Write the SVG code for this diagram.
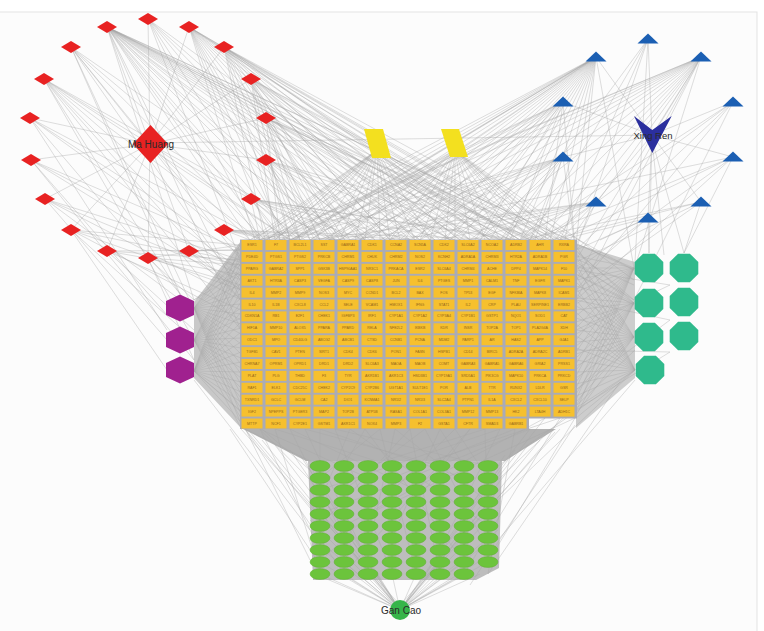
<svg xmlns="http://www.w3.org/2000/svg" xmlns:xlink="http://www.w3.org/1999/xlink" width="764" height="631" viewBox="0 0 764 631">
<style>
.e{fill:none;stroke:#a6a6a6;stroke-width:.5;stroke-opacity:.75}
.dm{fill:#e82222}
.tri{fill:#1b5fb3}
.hx{fill:#a0218f}
.oc{fill:#2fba8c}
.el{fill:#6cc43c;stroke:#5aa92f;stroke-width:.4}
.tg use{fill:#f6c02e}
.tg text{font-family:"Liberation Sans",Arial,sans-serif;font-size:3.6px;fill:#93651a;text-anchor:middle;dominant-baseline:central}
.lb{font-family:"Liberation Sans",Arial,sans-serif;fill:#2a2a2a;text-anchor:middle}
</style>
<defs>
<polygon id="dmd" points="0,-6 10,0 0,6 -10,0"/>
<polygon id="trs" points="0,-5.5 10.5,4.6 -10.5,4.6"/>
<polygon id="hxs" points="0,-13.5 14,-7 14,7 0,13.5 -14,7 -14,-7"/>
<polygon id="ocs" points="5.9,-14.3 14.3,-5.9 14.3,5.9 5.9,14.3 -5.9,14.3 -14.3,5.9 -14.3,-5.9 -5.9,-14.3"/>
<rect id="bx" x="-10.5" y="-5" width="21" height="10"/>
</defs>
<rect x="0" y="0" width="764" height="631" fill="#ffffff"/>
<rect x="-2" y="12" width="759" height="625" fill="#fcfcfc" stroke="#e3e3e3" stroke-width="1"/>

<g id="connectors">
<polygon points="194,302 241,241 241,428 194,378" fill="#c8c8c8"/>
<polygon points="576,244 635,262 635,378 576,428" fill="#cdcdcd"/>
<polygon points="243,429 556,429 505,461 306,461" fill="#b2b2b2"/>
<polygon points="308,461 502,461 499,568 476,580 313,580" fill="#bdbdbd"/>
<path class="e" d="M150 144L107 27M150 144L148 19M150 144L189 27M150 144L71 47M150 144L224 47M150 144L44 79M150 144L251 79M150 144L30 118M150 144L266 118M150 144L31 160M150 144L266 160M150 144L45 199M150 144L251 199M150 144L71 230M150 144L224 230M150 144L107 251M150 144L148 258M150 144L189 251M150 143L652 135M150 144L250 240M150 144L290 240"/>
<path class="e" d="M107 27L250 240M107 27L270 240M107 27L295 240M107 27L320 240M107 27L345 240M107 27L370 240M107 27L395 240M107 27L420 240M107 27L450 240M107 27L480 240M107 27L510 240M107 27L545 240M107 27L570 240M107 27L241 300M107 27L241 330M107 27L634 270M107 27L634 305M107 27L194 300M148 19L260 240M148 19L330 240M148 19L400 240M148 19L241 262M189 27L255 240M189 27L285 240M189 27L315 240M189 27L360 240M189 27L410 240M189 27L460 240M189 27L520 240M189 27L576 255M189 27L634 300M189 27L555 240M71 47L241 260M71 47L300 240M71 47L350 240M71 47L180 294M224 47L265 240M224 47L300 240M224 47L340 240M224 47L390 240M224 47L440 240M224 47L500 240M224 47L560 240M224 47L634 270M224 47L576 290M44 79L241 250M44 79L241 280M44 79L180 294M44 79L290 240M44 79L330 240M44 79L241 330M251 79L275 240M251 79L310 240M251 79L350 240M251 79L430 240M251 79L490 240M251 79L550 240M251 79L576 260M30 118L241 270M30 118L167 330M30 118L260 240M266 118L280 240M266 118L320 240M266 118L375 240M266 118L470 240M266 118L530 240M266 118L634 285M31 160L241 290M31 160L167 315M31 160L241 250M266 160L290 240M266 160L340 240M266 160L410 240M266 160L500 240M45 199L241 300M45 199L241 260M45 199L167 340M251 199L260 240M251 199L305 240M251 199L365 240M251 199L455 240M251 199L576 250M71 230L241 245M71 230L241 265M71 230L241 320M71 230L167 370M224 230L250 240M224 230L270 240M224 230L300 240M224 230L420 240M107 251L241 250M107 251L241 275M107 251L241 310M148 258L241 245M148 258L241 285M148 258L194 300M189 251L241 250M189 251L241 262M189 251L241 290"/>
<path class="e" d="M107 27L260 240M107 27L285 240M107 27L335 240M107 27L385 240M107 27L435 240M107 27L465 240M107 27L495 240M107 27L530 240M107 27L576 265M189 27L270 240M189 27L300 240M189 27L335 240M189 27L385 240M189 27L435 240M189 27L490 240M189 27L576 280M148 19L290 240M148 19L365 240M148 19L450 240M224 47L280 240M224 47L320 240M224 47L365 240M224 47L415 240M224 47L470 240M224 47L530 240M71 47L265 240M71 47L241 290M71 47L194 310M44 79L260 240M44 79L241 300M44 79L194 340M251 79L290 240M251 79L330 240M251 79L390 240M251 79L460 240M251 79L520 240M266 118L300 240M266 118L345 240M266 118L420 240M266 118L500 240M266 118L560 240M30 118L241 255M30 118L194 310M266 160L310 240M266 160L375 240M266 160L455 240M266 160L545 240M31 160L241 270M31 160L194 360M45 199L241 280M45 199L194 310M251 199L280 240M251 199L335 240M251 199L410 240M251 199L520 240M71 230L241 290M71 230L194 340M224 230L285 240M224 230L340 240M224 230L520 240M107 251L241 260M107 251L194 330M148 258L241 265M148 258L194 360M189 251L241 275M189 251L241 300"/>
<path class="e" d="M652 135L648 39M652 135L596 57M652 135L701 57M652 135L563 102M652 135L733 102M652 135L563 157M652 135L733 157M652 135L596 202M652 135L701 202M652 135L648 218M652 140L649 253M652 140L684 253M652 140L664 255M648 39L560 240M648 39L500 240M648 39L635 262M596 57L250 240M596 57L280 240M596 57L310 240M596 57L340 240M596 57L370 240M596 57L400 240M596 57L430 240M596 57L460 240M596 57L490 240M596 57L520 240M596 57L550 240M596 57L576 245M596 57L194 300M596 57L241 270M596 57L634 268M701 57L260 240M701 57L320 240M701 57L380 240M701 57L440 240M701 57L500 240M701 57L540 240M701 57L570 240M701 57L576 280M701 57L634 270M701 57L241 250M563 102L270 240M563 102L330 240M563 102L390 240M563 102L450 240M563 102L510 240M563 102L545 240M563 102L576 260M733 102L576 250M733 102L520 240M733 102L634 300M563 157L290 240M563 157L360 240M563 157L420 240M563 157L480 240M563 157L530 240M563 157L576 255M733 157L560 240M733 157L576 270M733 157L684 253M733 157L241 260M596 202L310 240M596 202L400 240M596 202L470 240M596 202L540 240M596 202L576 245M701 202L576 262M701 202L550 240M701 202L684 253M648 218L576 250M648 218L649 253M648 218L600 240"/>
<path class="e" d="M596 57L265 240M596 57L295 240M596 57L325 240M596 57L355 240M596 57L385 240M596 57L415 240M596 57L445 240M596 57L475 240M596 57L505 240M596 57L535 240M596 57L565 240M596 57L241 300M701 57L290 240M701 57L350 240M701 57L410 240M701 57L470 240M701 57L520 240M701 57L555 240M701 57L576 260M701 57L576 300M563 102L300 240M563 102L360 240M563 102L420 240M563 102L480 240M563 102L241 260M563 157L260 240M563 157L330 240M563 157L390 240M563 157L450 240M563 157L505 240M733 102L545 240M733 102L576 290M733 157L530 240M733 157L576 300M596 202L350 240M596 202L440 240M596 202L505 240M596 202L560 240M701 202L520 240M701 202L576 290M648 218L560 240M648 218L576 280M648 39L530 240M648 39L576 250"/>
<path class="e" d="M377 150L250 240M377 150L275 240M377 150L300 240M377 150L330 240M377 150L355 240M377 150L380 240M377 150L400 240M377 150L430 240M377 150L470 240M377 150L520 240M377 150L241 270M377 150L241 300M377 150L194 300M455 150L290 240M455 150L340 240M455 150L390 240M455 150L420 240M455 150L445 240M455 150L470 240M455 150L500 240M455 150L530 240M455 150L560 240M455 150L576 260M455 150L634 280M455 150L634 300M377 150L260 240M377 150L285 240M377 150L315 240M377 150L340 240M377 150L365 240M377 150L390 240M377 150L415 240M377 150L450 240M377 150L490 240M377 150L241 250M455 150L310 240M455 150L360 240M455 150L405 240M455 150L430 240M455 150L455 240M455 150L485 240M455 150L515 240M455 150L545 240M455 150L576 245M455 150L576 280"/>
<path class="e" d="M194 308L241 244M194 308L241 254M194 308L241 264M194 308L241 274M194 308L241 284M194 308L241 294M194 308L241 304M194 308L241 314M194 308L241 324M194 308L241 334M194 308L241 344M194 308L241 354M194 308L241 364M194 308L241 374M194 308L241 384M194 308L241 394M194 308L241 404M194 308L241 414M194 308L241 424M194 340L241 248M194 340L241 258M194 340L241 268M194 340L241 278M194 340L241 288M194 340L241 298M194 340L241 308M194 340L241 318M194 340L241 328M194 340L241 338M194 340L241 348M194 340L241 358M194 340L241 368M194 340L241 378M194 340L241 388M194 340L241 398M194 340L241 408M194 340L241 418M194 340L241 428M194 371L241 242M194 371L241 252M194 371L241 262M194 371L241 272M194 371L241 282M194 371L241 292M194 371L241 302M194 371L241 312M194 371L241 322M194 371L241 332M194 371L241 342M194 371L241 352M194 371L241 362M194 371L241 372M194 371L241 382M194 371L241 392M194 371L241 402M194 371L241 412M194 371L241 422"/>
<path class="e" d="M634 268L576 244M634 268L576 256M634 268L576 268M634 268L576 280M634 268L576 292M634 268L576 304M634 268L576 316M634 268L576 328M634 268L576 340M634 268L576 352M634 268L576 364M634 268L576 376M634 268L576 388M634 268L576 400M634 268L576 412M634 303L576 250M634 303L576 262M634 303L576 274M634 303L576 286M634 303L576 298M634 303L576 310M634 303L576 322M634 303L576 334M634 303L576 346M634 303L576 358M634 303L576 370M634 303L576 382M634 303L576 394M634 303L576 406M634 303L576 416M634 337L576 246M634 337L576 258M634 337L576 270M634 337L576 282M634 337L576 294M634 337L576 306M634 337L576 318M634 337L576 330M634 337L576 342M634 337L576 354M634 337L576 366M634 337L576 378M634 337L576 390M634 337L576 402M634 337L576 414M635 370L576 252M635 370L576 264M635 370L576 276M635 370L576 288M635 370L576 300M635 370L576 312M635 370L576 324M635 370L576 336M635 370L576 348M635 370L576 360M635 370L576 372M635 370L576 384M635 370L576 396M635 370L576 408M635 370L576 418M670 285L576 270M670 285L576 330M670 320L576 300M670 320L576 390M670 352L576 350M670 352L576 410"/>
<path class="e" d="M245 429L320 466M245 429L320 520M245 429L344 574M260 429L368 478M260 429L320 550M275 429L392 466M275 429L320 574M290 429L416 490M290 429L344 538M305 429L440 466M305 429L368 562M320 429L464 478M320 429L320 540M335 429L488 466M335 429L392 574M350 429L320 502M350 429L488 526M365 429L344 466M365 429L464 562M380 429L416 574M380 429L320 478M395 429L488 502M395 429L368 550M410 429L440 574M410 429L320 526M425 429L488 550M425 429L344 490M440 429L392 538M440 429L464 466M455 429L320 562M455 429L488 478M470 429L344 574M470 429L416 502M485 429L368 466M485 429L488 538M500 429L320 490M500 429L440 550M515 429L392 478M515 429L488 574M530 429L464 514M530 429L320 514M545 418L488 490M545 418L344 526M560 418L464 574M560 418L416 466M575 418L488 562M575 418L368 514M635 370L498 466M635 370L498 500M635 380L498 540M620 382L488 574M635 350L498 480M241 420L310 560M241 429L400 605M241 410L310 480M230 429L330 580M194 371L310 470M194 380L310 530M560 429L400 605M575 425L470 585"/>
<path class="e" d="M400 610L320 574M400 610L344 574M400 610L368 574M400 610L392 574M400 610L416 574M400 610L440 574M400 610L464 574M400 610L488 562M400 610L320 562M400 610L310 540M400 610L310 520M400 610L310 500M400 610L310 480M400 610L310 466M400 610L498 550M400 610L498 530M400 610L498 510M400 610L498 490M400 610L498 470M400 610L344 562M400 610L368 562M400 610L440 562M400 610L464 562M400 610L330 550M400 610L478 550M400 610L315 574M400 610L480 574M400 610L352 580M400 610L452 580M400 610L262 440M400 610L275 445M400 610L290 450M400 610L300 455M400 610L540 440M400 610L528 445M400 610L515 450M400 610L505 455M400 610L250 432M400 610L555 432"/>
</g>

<g id="ma-huang"><polygon class="dm" points="150.5,125 168,144 150.5,163 133,144"/><text class="lb" x="151" y="147.5" font-size="10">Ma Huang</text></g>
<g id="mh1"><use href="#dmd" class="dm" x="107" y="27"/></g>
<g id="mh2"><use href="#dmd" class="dm" x="148" y="19"/></g>
<g id="mh3"><use href="#dmd" class="dm" x="189" y="27"/></g>
<g id="mh4"><use href="#dmd" class="dm" x="71" y="47"/></g>
<g id="mh5"><use href="#dmd" class="dm" x="224" y="47"/></g>
<g id="mh6"><use href="#dmd" class="dm" x="44" y="79"/></g>
<g id="mh7"><use href="#dmd" class="dm" x="251" y="79"/></g>
<g id="mh8"><use href="#dmd" class="dm" x="30" y="118"/></g>
<g id="mh9"><use href="#dmd" class="dm" x="266" y="118"/></g>
<g id="mh10"><use href="#dmd" class="dm" x="31" y="160"/></g>
<g id="mh11"><use href="#dmd" class="dm" x="266" y="160"/></g>
<g id="mh12"><use href="#dmd" class="dm" x="45" y="199"/></g>
<g id="mh13"><use href="#dmd" class="dm" x="251" y="199"/></g>
<g id="mh14"><use href="#dmd" class="dm" x="71" y="230"/></g>
<g id="mh15"><use href="#dmd" class="dm" x="224" y="230"/></g>
<g id="mh16"><use href="#dmd" class="dm" x="107" y="251"/></g>
<g id="mh17"><use href="#dmd" class="dm" x="148" y="258"/></g>
<g id="mh18"><use href="#dmd" class="dm" x="189" y="251"/></g>

<g id="xing-ren"><polygon points="634,116 652.3,130 671.7,116 652.3,153" fill="#2b2f9e"/><text class="lb" x="653" y="138.5" font-size="9.5">Xing Ren</text></g>
<g id="xr1"><use href="#trs" class="tri" x="648" y="39"/></g>
<g id="xr2"><use href="#trs" class="tri" x="596" y="57"/></g>
<g id="xr3"><use href="#trs" class="tri" x="701" y="57"/></g>
<g id="xr4"><use href="#trs" class="tri" x="563" y="102"/></g>
<g id="xr5"><use href="#trs" class="tri" x="733" y="102"/></g>
<g id="xr6"><use href="#trs" class="tri" x="563" y="157"/></g>
<g id="xr7"><use href="#trs" class="tri" x="733" y="157"/></g>
<g id="xr8"><use href="#trs" class="tri" x="596" y="202"/></g>
<g id="xr9"><use href="#trs" class="tri" x="701" y="202"/></g>
<g id="xr10"><use href="#trs" class="tri" x="648" y="218"/></g>

<g id="shared1"><polygon points="364,129 383,129 391,158 372,158" fill="#f3e01f"/></g>
<g id="shared2"><polygon points="441,129 459,129 468,157 450,157" fill="#f3e01f"/></g>

<g id="hx1"><use href="#hxs" class="hx" x="180" y="308"/></g>
<g id="hx2"><use href="#hxs" class="hx" x="180" y="340"/></g>
<g id="hx3"><use href="#hxs" class="hx" x="180" y="370"/></g>

<g id="oc1"><use href="#ocs" class="oc" x="649" y="268"/></g>
<g id="oc2"><use href="#ocs" class="oc" x="684" y="268"/></g>
<g id="oc3"><use href="#ocs" class="oc" x="649" y="303"/></g>
<g id="oc4"><use href="#ocs" class="oc" x="684" y="302"/></g>
<g id="oc5"><use href="#ocs" class="oc" x="649" y="337"/></g>
<g id="oc6"><use href="#ocs" class="oc" x="684" y="336"/></g>
<g id="oc7"><use href="#ocs" class="oc" x="650" y="370"/></g>

<path d="M240 239.5H577V418.5H529V429H240Z" fill="#a9abb7"/>
<g class="tg">
<g id="t0" transform="translate(252 245)"><use href="#bx"/><text>ESR1</text></g>
<g id="t1" transform="translate(276 245)"><use href="#bx"/><text>F7</text></g>
<g id="t2" transform="translate(300 245)"><use href="#bx"/><text>BCL2L1</text></g>
<g id="t3" transform="translate(324 245)"><use href="#bx"/><text>SST</text></g>
<g id="t4" transform="translate(348 245)"><use href="#bx"/><text>GABRA1</text></g>
<g id="t5" transform="translate(372 245)"><use href="#bx"/><text>CDK1</text></g>
<g id="t6" transform="translate(396 245)"><use href="#bx"/><text>CCNA2</text></g>
<g id="t7" transform="translate(420 245)"><use href="#bx"/><text>SCN5A</text></g>
<g id="t8" transform="translate(444 245)"><use href="#bx"/><text>CDK2</text></g>
<g id="t9" transform="translate(468 245)"><use href="#bx"/><text>SLC6A2</text></g>
<g id="t10" transform="translate(492 245)"><use href="#bx"/><text>NCOA2</text></g>
<g id="t11" transform="translate(516 245)"><use href="#bx"/><text>ADRB2</text></g>
<g id="t12" transform="translate(540 245)"><use href="#bx"/><text>AHR</text></g>
<g id="t13" transform="translate(564 245)"><use href="#bx"/><text>RXRA</text></g>
<g id="t14" transform="translate(252 256.9)"><use href="#bx"/><text>PDE4D</text></g>
<g id="t15" transform="translate(276 256.9)"><use href="#bx"/><text>PTGS1</text></g>
<g id="t16" transform="translate(300 256.9)"><use href="#bx"/><text>PTGS2</text></g>
<g id="t17" transform="translate(324 256.9)"><use href="#bx"/><text>PRKCB</text></g>
<g id="t18" transform="translate(348 256.9)"><use href="#bx"/><text>CHRM1</text></g>
<g id="t19" transform="translate(372 256.9)"><use href="#bx"/><text>CHUK</text></g>
<g id="t20" transform="translate(396 256.9)"><use href="#bx"/><text>CHRM2</text></g>
<g id="t21" transform="translate(420 256.9)"><use href="#bx"/><text>NOS2</text></g>
<g id="t22" transform="translate(444 256.9)"><use href="#bx"/><text>KCNH2</text></g>
<g id="t23" transform="translate(468 256.9)"><use href="#bx"/><text>ADRA1A</text></g>
<g id="t24" transform="translate(492 256.9)"><use href="#bx"/><text>CHRM3</text></g>
<g id="t25" transform="translate(516 256.9)"><use href="#bx"/><text>HTR2A</text></g>
<g id="t26" transform="translate(540 256.9)"><use href="#bx"/><text>ADRA1B</text></g>
<g id="t27" transform="translate(564 256.9)"><use href="#bx"/><text>PGR</text></g>
<g id="t28" transform="translate(252 268.8)"><use href="#bx"/><text>PPARG</text></g>
<g id="t29" transform="translate(276 268.8)"><use href="#bx"/><text>GABRA2</text></g>
<g id="t30" transform="translate(300 268.8)"><use href="#bx"/><text>SPP1</text></g>
<g id="t31" transform="translate(324 268.8)"><use href="#bx"/><text>GSK3B</text></g>
<g id="t32" transform="translate(348 268.8)"><use href="#bx"/><text>HSP90AA1</text></g>
<g id="t33" transform="translate(372 268.8)"><use href="#bx"/><text>NR3C1</text></g>
<g id="t34" transform="translate(396 268.8)"><use href="#bx"/><text>PRKACA</text></g>
<g id="t35" transform="translate(420 268.8)"><use href="#bx"/><text>ESR2</text></g>
<g id="t36" transform="translate(444 268.8)"><use href="#bx"/><text>SLC6A4</text></g>
<g id="t37" transform="translate(468 268.8)"><use href="#bx"/><text>CHRM4</text></g>
<g id="t38" transform="translate(492 268.8)"><use href="#bx"/><text>ACHE</text></g>
<g id="t39" transform="translate(516 268.8)"><use href="#bx"/><text>DPP4</text></g>
<g id="t40" transform="translate(540 268.8)"><use href="#bx"/><text>MAPK14</text></g>
<g id="t41" transform="translate(564 268.8)"><use href="#bx"/><text>F10</text></g>
<g id="t42" transform="translate(252 280.7)"><use href="#bx"/><text>AKT1</text></g>
<g id="t43" transform="translate(276 280.7)"><use href="#bx"/><text>HTR3A</text></g>
<g id="t44" transform="translate(300 280.7)"><use href="#bx"/><text>CASP3</text></g>
<g id="t45" transform="translate(324 280.7)"><use href="#bx"/><text>VEGFA</text></g>
<g id="t46" transform="translate(348 280.7)"><use href="#bx"/><text>CASP9</text></g>
<g id="t47" transform="translate(372 280.7)"><use href="#bx"/><text>CASP8</text></g>
<g id="t48" transform="translate(396 280.7)"><use href="#bx"/><text>JUN</text></g>
<g id="t49" transform="translate(420 280.7)"><use href="#bx"/><text>IL6</text></g>
<g id="t50" transform="translate(444 280.7)"><use href="#bx"/><text>PTGES</text></g>
<g id="t51" transform="translate(468 280.7)"><use href="#bx"/><text>MMP1</text></g>
<g id="t52" transform="translate(492 280.7)"><use href="#bx"/><text>CALM1</text></g>
<g id="t53" transform="translate(516 280.7)"><use href="#bx"/><text>TNF</text></g>
<g id="t54" transform="translate(540 280.7)"><use href="#bx"/><text>EGFR</text></g>
<g id="t55" transform="translate(564 280.7)"><use href="#bx"/><text>MAPK1</text></g>
<g id="t56" transform="translate(252 292.6)"><use href="#bx"/><text>IL4</text></g>
<g id="t57" transform="translate(276 292.6)"><use href="#bx"/><text>MMP2</text></g>
<g id="t58" transform="translate(300 292.6)"><use href="#bx"/><text>MMP9</text></g>
<g id="t59" transform="translate(324 292.6)"><use href="#bx"/><text>NOS3</text></g>
<g id="t60" transform="translate(348 292.6)"><use href="#bx"/><text>MYC</text></g>
<g id="t61" transform="translate(372 292.6)"><use href="#bx"/><text>CCND1</text></g>
<g id="t62" transform="translate(396 292.6)"><use href="#bx"/><text>BCL2</text></g>
<g id="t63" transform="translate(420 292.6)"><use href="#bx"/><text>BAX</text></g>
<g id="t64" transform="translate(444 292.6)"><use href="#bx"/><text>FOS</text></g>
<g id="t65" transform="translate(468 292.6)"><use href="#bx"/><text>TP53</text></g>
<g id="t66" transform="translate(492 292.6)"><use href="#bx"/><text>EGF</text></g>
<g id="t67" transform="translate(516 292.6)"><use href="#bx"/><text>NFKBIA</text></g>
<g id="t68" transform="translate(540 292.6)"><use href="#bx"/><text>MAPK8</text></g>
<g id="t69" transform="translate(564 292.6)"><use href="#bx"/><text>ICAM1</text></g>
<g id="t70" transform="translate(252 304.5)"><use href="#bx"/><text>IL10</text></g>
<g id="t71" transform="translate(276 304.5)"><use href="#bx"/><text>IL1B</text></g>
<g id="t72" transform="translate(300 304.5)"><use href="#bx"/><text>CXCL8</text></g>
<g id="t73" transform="translate(324 304.5)"><use href="#bx"/><text>CCL2</text></g>
<g id="t74" transform="translate(348 304.5)"><use href="#bx"/><text>SELE</text></g>
<g id="t75" transform="translate(372 304.5)"><use href="#bx"/><text>VCAM1</text></g>
<g id="t76" transform="translate(396 304.5)"><use href="#bx"/><text>HMOX1</text></g>
<g id="t77" transform="translate(420 304.5)"><use href="#bx"/><text>IFNG</text></g>
<g id="t78" transform="translate(444 304.5)"><use href="#bx"/><text>STAT1</text></g>
<g id="t79" transform="translate(468 304.5)"><use href="#bx"/><text>IL2</text></g>
<g id="t80" transform="translate(492 304.5)"><use href="#bx"/><text>CRP</text></g>
<g id="t81" transform="translate(516 304.5)"><use href="#bx"/><text>PLAU</text></g>
<g id="t82" transform="translate(540 304.5)"><use href="#bx"/><text>SERPINE1</text></g>
<g id="t83" transform="translate(564 304.5)"><use href="#bx"/><text>ERBB2</text></g>
<g id="t84" transform="translate(252 316.4)"><use href="#bx"/><text>CDKN1A</text></g>
<g id="t85" transform="translate(276 316.4)"><use href="#bx"/><text>RB1</text></g>
<g id="t86" transform="translate(300 316.4)"><use href="#bx"/><text>E2F1</text></g>
<g id="t87" transform="translate(324 316.4)"><use href="#bx"/><text>CHEK1</text></g>
<g id="t88" transform="translate(348 316.4)"><use href="#bx"/><text>IGFBP3</text></g>
<g id="t89" transform="translate(372 316.4)"><use href="#bx"/><text>IRF1</text></g>
<g id="t90" transform="translate(396 316.4)"><use href="#bx"/><text>CYP1A1</text></g>
<g id="t91" transform="translate(420 316.4)"><use href="#bx"/><text>CYP1A2</text></g>
<g id="t92" transform="translate(444 316.4)"><use href="#bx"/><text>CYP3A4</text></g>
<g id="t93" transform="translate(468 316.4)"><use href="#bx"/><text>CYP1B1</text></g>
<g id="t94" transform="translate(492 316.4)"><use href="#bx"/><text>GSTP1</text></g>
<g id="t95" transform="translate(516 316.4)"><use href="#bx"/><text>NQO1</text></g>
<g id="t96" transform="translate(540 316.4)"><use href="#bx"/><text>SOD1</text></g>
<g id="t97" transform="translate(564 316.4)"><use href="#bx"/><text>CAT</text></g>
<g id="t98" transform="translate(252 328.3)"><use href="#bx"/><text>HIF1A</text></g>
<g id="t99" transform="translate(276 328.3)"><use href="#bx"/><text>MMP10</text></g>
<g id="t100" transform="translate(300 328.3)"><use href="#bx"/><text>ALOX5</text></g>
<g id="t101" transform="translate(324 328.3)"><use href="#bx"/><text>PPARA</text></g>
<g id="t102" transform="translate(348 328.3)"><use href="#bx"/><text>PPARD</text></g>
<g id="t103" transform="translate(372 328.3)"><use href="#bx"/><text>RELA</text></g>
<g id="t104" transform="translate(396 328.3)"><use href="#bx"/><text>NFE2L2</text></g>
<g id="t105" transform="translate(420 328.3)"><use href="#bx"/><text>IKBKB</text></g>
<g id="t106" transform="translate(444 328.3)"><use href="#bx"/><text>KDR</text></g>
<g id="t107" transform="translate(468 328.3)"><use href="#bx"/><text>INSR</text></g>
<g id="t108" transform="translate(492 328.3)"><use href="#bx"/><text>TOP2A</text></g>
<g id="t109" transform="translate(516 328.3)"><use href="#bx"/><text>TOP1</text></g>
<g id="t110" transform="translate(540 328.3)"><use href="#bx"/><text>PLA2G4A</text></g>
<g id="t111" transform="translate(564 328.3)"><use href="#bx"/><text>XDH</text></g>
<g id="t112" transform="translate(252 340.2)"><use href="#bx"/><text>ODC1</text></g>
<g id="t113" transform="translate(276 340.2)"><use href="#bx"/><text>MPO</text></g>
<g id="t114" transform="translate(300 340.2)"><use href="#bx"/><text>CD40LG</text></g>
<g id="t115" transform="translate(324 340.2)"><use href="#bx"/><text>ABCG2</text></g>
<g id="t116" transform="translate(348 340.2)"><use href="#bx"/><text>ABCB1</text></g>
<g id="t117" transform="translate(372 340.2)"><use href="#bx"/><text>CTSD</text></g>
<g id="t118" transform="translate(396 340.2)"><use href="#bx"/><text>CCNB1</text></g>
<g id="t119" transform="translate(420 340.2)"><use href="#bx"/><text>PCNA</text></g>
<g id="t120" transform="translate(444 340.2)"><use href="#bx"/><text>MDM2</text></g>
<g id="t121" transform="translate(468 340.2)"><use href="#bx"/><text>PARP1</text></g>
<g id="t122" transform="translate(492 340.2)"><use href="#bx"/><text>AR</text></g>
<g id="t123" transform="translate(516 340.2)"><use href="#bx"/><text>HAS2</text></g>
<g id="t124" transform="translate(540 340.2)"><use href="#bx"/><text>APP</text></g>
<g id="t125" transform="translate(564 340.2)"><use href="#bx"/><text>GJA1</text></g>
<g id="t126" transform="translate(252 352.1)"><use href="#bx"/><text>TGFB1</text></g>
<g id="t127" transform="translate(276 352.1)"><use href="#bx"/><text>CAV1</text></g>
<g id="t128" transform="translate(300 352.1)"><use href="#bx"/><text>PTEN</text></g>
<g id="t129" transform="translate(324 352.1)"><use href="#bx"/><text>SIRT1</text></g>
<g id="t130" transform="translate(348 352.1)"><use href="#bx"/><text>CDK4</text></g>
<g id="t131" transform="translate(372 352.1)"><use href="#bx"/><text>CDK6</text></g>
<g id="t132" transform="translate(396 352.1)"><use href="#bx"/><text>PON1</text></g>
<g id="t133" transform="translate(420 352.1)"><use href="#bx"/><text>FASN</text></g>
<g id="t134" transform="translate(444 352.1)"><use href="#bx"/><text>HSPB1</text></g>
<g id="t135" transform="translate(468 352.1)"><use href="#bx"/><text>CD14</text></g>
<g id="t136" transform="translate(492 352.1)"><use href="#bx"/><text>BIRC5</text></g>
<g id="t137" transform="translate(516 352.1)"><use href="#bx"/><text>ADRA2A</text></g>
<g id="t138" transform="translate(540 352.1)"><use href="#bx"/><text>ADRA2C</text></g>
<g id="t139" transform="translate(564 352.1)"><use href="#bx"/><text>ADRB1</text></g>
<g id="t140" transform="translate(252 364)"><use href="#bx"/><text>CHRNA7</text></g>
<g id="t141" transform="translate(276 364)"><use href="#bx"/><text>OPRM1</text></g>
<g id="t142" transform="translate(300 364)"><use href="#bx"/><text>OPRD1</text></g>
<g id="t143" transform="translate(324 364)"><use href="#bx"/><text>DRD1</text></g>
<g id="t144" transform="translate(348 364)"><use href="#bx"/><text>DRD2</text></g>
<g id="t145" transform="translate(372 364)"><use href="#bx"/><text>SLC6A3</text></g>
<g id="t146" transform="translate(396 364)"><use href="#bx"/><text>MAOA</text></g>
<g id="t147" transform="translate(420 364)"><use href="#bx"/><text>MAOB</text></g>
<g id="t148" transform="translate(444 364)"><use href="#bx"/><text>COMT</text></g>
<g id="t149" transform="translate(468 364)"><use href="#bx"/><text>GABRA3</text></g>
<g id="t150" transform="translate(492 364)"><use href="#bx"/><text>GABRA5</text></g>
<g id="t151" transform="translate(516 364)"><use href="#bx"/><text>GABRA6</text></g>
<g id="t152" transform="translate(540 364)"><use href="#bx"/><text>GRIA2</text></g>
<g id="t153" transform="translate(564 364)"><use href="#bx"/><text>PRSS1</text></g>
<g id="t154" transform="translate(252 375.9)"><use href="#bx"/><text>PLAT</text></g>
<g id="t155" transform="translate(276 375.9)"><use href="#bx"/><text>PLG</text></g>
<g id="t156" transform="translate(300 375.9)"><use href="#bx"/><text>THBD</text></g>
<g id="t157" transform="translate(324 375.9)"><use href="#bx"/><text>F3</text></g>
<g id="t158" transform="translate(348 375.9)"><use href="#bx"/><text>TYR</text></g>
<g id="t159" transform="translate(372 375.9)"><use href="#bx"/><text>AKR1B1</text></g>
<g id="t160" transform="translate(396 375.9)"><use href="#bx"/><text>AKR1C3</text></g>
<g id="t161" transform="translate(420 375.9)"><use href="#bx"/><text>HSD3B1</text></g>
<g id="t162" transform="translate(444 375.9)"><use href="#bx"/><text>CYP19A1</text></g>
<g id="t163" transform="translate(468 375.9)"><use href="#bx"/><text>SRD5A1</text></g>
<g id="t164" transform="translate(492 375.9)"><use href="#bx"/><text>PIK3CG</text></g>
<g id="t165" transform="translate(516 375.9)"><use href="#bx"/><text>MAPK10</text></g>
<g id="t166" transform="translate(540 375.9)"><use href="#bx"/><text>PRKCA</text></g>
<g id="t167" transform="translate(564 375.9)"><use href="#bx"/><text>PRKCD</text></g>
<g id="t168" transform="translate(252 387.8)"><use href="#bx"/><text>RAF1</text></g>
<g id="t169" transform="translate(276 387.8)"><use href="#bx"/><text>ELK1</text></g>
<g id="t170" transform="translate(300 387.8)"><use href="#bx"/><text>CDC25C</text></g>
<g id="t171" transform="translate(324 387.8)"><use href="#bx"/><text>CHEK2</text></g>
<g id="t172" transform="translate(348 387.8)"><use href="#bx"/><text>CYP2C9</text></g>
<g id="t173" transform="translate(372 387.8)"><use href="#bx"/><text>CYP2B6</text></g>
<g id="t174" transform="translate(396 387.8)"><use href="#bx"/><text>UGT1A1</text></g>
<g id="t175" transform="translate(420 387.8)"><use href="#bx"/><text>SULT1E1</text></g>
<g id="t176" transform="translate(444 387.8)"><use href="#bx"/><text>POR</text></g>
<g id="t177" transform="translate(468 387.8)"><use href="#bx"/><text>ALB</text></g>
<g id="t178" transform="translate(492 387.8)"><use href="#bx"/><text>TTR</text></g>
<g id="t179" transform="translate(516 387.8)"><use href="#bx"/><text>RUNX2</text></g>
<g id="t180" transform="translate(540 387.8)"><use href="#bx"/><text>LDLR</text></g>
<g id="t181" transform="translate(564 387.8)"><use href="#bx"/><text>GSR</text></g>
<g id="t182" transform="translate(252 399.7)"><use href="#bx"/><text>TXNRD1</text></g>
<g id="t183" transform="translate(276 399.7)"><use href="#bx"/><text>GCLC</text></g>
<g id="t184" transform="translate(300 399.7)"><use href="#bx"/><text>GCLM</text></g>
<g id="t185" transform="translate(324 399.7)"><use href="#bx"/><text>CA2</text></g>
<g id="t186" transform="translate(348 399.7)"><use href="#bx"/><text>DIO1</text></g>
<g id="t187" transform="translate(372 399.7)"><use href="#bx"/><text>KCNMA1</text></g>
<g id="t188" transform="translate(396 399.7)"><use href="#bx"/><text>NR1I2</text></g>
<g id="t189" transform="translate(420 399.7)"><use href="#bx"/><text>NR1I3</text></g>
<g id="t190" transform="translate(444 399.7)"><use href="#bx"/><text>SLC2A4</text></g>
<g id="t191" transform="translate(468 399.7)"><use href="#bx"/><text>PTPN1</text></g>
<g id="t192" transform="translate(492 399.7)"><use href="#bx"/><text>IL1A</text></g>
<g id="t193" transform="translate(516 399.7)"><use href="#bx"/><text>CXCL2</text></g>
<g id="t194" transform="translate(540 399.7)"><use href="#bx"/><text>CXCL10</text></g>
<g id="t195" transform="translate(564 399.7)"><use href="#bx"/><text>SELP</text></g>
<g id="t196" transform="translate(252 411.6)"><use href="#bx"/><text>IGF2</text></g>
<g id="t197" transform="translate(276 411.6)"><use href="#bx"/><text>NPEPPS</text></g>
<g id="t198" transform="translate(300 411.6)"><use href="#bx"/><text>PTGER3</text></g>
<g id="t199" transform="translate(324 411.6)"><use href="#bx"/><text>MAP2</text></g>
<g id="t200" transform="translate(348 411.6)"><use href="#bx"/><text>TOP2B</text></g>
<g id="t201" transform="translate(372 411.6)"><use href="#bx"/><text>ATP5B</text></g>
<g id="t202" transform="translate(396 411.6)"><use href="#bx"/><text>RASA1</text></g>
<g id="t203" transform="translate(420 411.6)"><use href="#bx"/><text>COL1A1</text></g>
<g id="t204" transform="translate(444 411.6)"><use href="#bx"/><text>COL3A1</text></g>
<g id="t205" transform="translate(468 411.6)"><use href="#bx"/><text>MMP12</text></g>
<g id="t206" transform="translate(492 411.6)"><use href="#bx"/><text>MMP13</text></g>
<g id="t207" transform="translate(516 411.6)"><use href="#bx"/><text>HK2</text></g>
<g id="t208" transform="translate(540 411.6)"><use href="#bx"/><text>LTA4H</text></g>
<g id="t209" transform="translate(564 411.6)"><use href="#bx"/><text>ADH1C</text></g>
<g id="t210" transform="translate(252 423.5)"><use href="#bx"/><text>MTTP</text></g>
<g id="t211" transform="translate(276 423.5)"><use href="#bx"/><text>NCF1</text></g>
<g id="t212" transform="translate(300 423.5)"><use href="#bx"/><text>CYP2E1</text></g>
<g id="t213" transform="translate(324 423.5)"><use href="#bx"/><text>GSTM1</text></g>
<g id="t214" transform="translate(348 423.5)"><use href="#bx"/><text>AKR1C1</text></g>
<g id="t215" transform="translate(372 423.5)"><use href="#bx"/><text>NOX4</text></g>
<g id="t216" transform="translate(396 423.5)"><use href="#bx"/><text>MMP3</text></g>
<g id="t217" transform="translate(420 423.5)"><use href="#bx"/><text>F2</text></g>
<g id="t218" transform="translate(444 423.5)"><use href="#bx"/><text>GSTA1</text></g>
<g id="t219" transform="translate(468 423.5)"><use href="#bx"/><text>CFTR</text></g>
<g id="t220" transform="translate(492 423.5)"><use href="#bx"/><text>SMAD3</text></g>
<g id="t221" transform="translate(516 423.5)"><use href="#bx"/><text>GABRB1</text></g>
</g>

<g class="el">
<g id="c1"><ellipse cx="320" cy="466" rx="10" ry="5.5"/></g><g id="c2"><ellipse cx="344" cy="466" rx="10" ry="5.5"/></g><g id="c3"><ellipse cx="368" cy="466" rx="10" ry="5.5"/></g><g id="c4"><ellipse cx="392" cy="466" rx="10" ry="5.5"/></g><g id="c5"><ellipse cx="416" cy="466" rx="10" ry="5.5"/></g><g id="c6"><ellipse cx="440" cy="466" rx="10" ry="5.5"/></g><g id="c7"><ellipse cx="464" cy="466" rx="10" ry="5.5"/></g><g id="c8"><ellipse cx="488" cy="466" rx="10" ry="5.5"/></g>
<g id="c9"><ellipse cx="320" cy="478" rx="10" ry="5.5"/></g><g id="c10"><ellipse cx="344" cy="478" rx="10" ry="5.5"/></g><g id="c11"><ellipse cx="368" cy="478" rx="10" ry="5.5"/></g><g id="c12"><ellipse cx="392" cy="478" rx="10" ry="5.5"/></g><g id="c13"><ellipse cx="416" cy="478" rx="10" ry="5.5"/></g><g id="c14"><ellipse cx="440" cy="478" rx="10" ry="5.5"/></g><g id="c15"><ellipse cx="464" cy="478" rx="10" ry="5.5"/></g><g id="c16"><ellipse cx="488" cy="478" rx="10" ry="5.5"/></g>
<g id="c17"><ellipse cx="320" cy="490" rx="10" ry="5.5"/></g><g id="c18"><ellipse cx="344" cy="490" rx="10" ry="5.5"/></g><g id="c19"><ellipse cx="368" cy="490" rx="10" ry="5.5"/></g><g id="c20"><ellipse cx="392" cy="490" rx="10" ry="5.5"/></g><g id="c21"><ellipse cx="416" cy="490" rx="10" ry="5.5"/></g><g id="c22"><ellipse cx="440" cy="490" rx="10" ry="5.5"/></g><g id="c23"><ellipse cx="464" cy="490" rx="10" ry="5.5"/></g><g id="c24"><ellipse cx="488" cy="490" rx="10" ry="5.5"/></g>
<g id="c25"><ellipse cx="320" cy="502" rx="10" ry="5.5"/></g><g id="c26"><ellipse cx="344" cy="502" rx="10" ry="5.5"/></g><g id="c27"><ellipse cx="368" cy="502" rx="10" ry="5.5"/></g><g id="c28"><ellipse cx="392" cy="502" rx="10" ry="5.5"/></g><g id="c29"><ellipse cx="416" cy="502" rx="10" ry="5.5"/></g><g id="c30"><ellipse cx="440" cy="502" rx="10" ry="5.5"/></g><g id="c31"><ellipse cx="464" cy="502" rx="10" ry="5.5"/></g><g id="c32"><ellipse cx="488" cy="502" rx="10" ry="5.5"/></g>
<g id="c33"><ellipse cx="320" cy="514" rx="10" ry="5.5"/></g><g id="c34"><ellipse cx="344" cy="514" rx="10" ry="5.5"/></g><g id="c35"><ellipse cx="368" cy="514" rx="10" ry="5.5"/></g><g id="c36"><ellipse cx="392" cy="514" rx="10" ry="5.5"/></g><g id="c37"><ellipse cx="416" cy="514" rx="10" ry="5.5"/></g><g id="c38"><ellipse cx="440" cy="514" rx="10" ry="5.5"/></g><g id="c39"><ellipse cx="464" cy="514" rx="10" ry="5.5"/></g><g id="c40"><ellipse cx="488" cy="514" rx="10" ry="5.5"/></g>
<g id="c41"><ellipse cx="320" cy="526" rx="10" ry="5.5"/></g><g id="c42"><ellipse cx="344" cy="526" rx="10" ry="5.5"/></g><g id="c43"><ellipse cx="368" cy="526" rx="10" ry="5.5"/></g><g id="c44"><ellipse cx="392" cy="526" rx="10" ry="5.5"/></g><g id="c45"><ellipse cx="416" cy="526" rx="10" ry="5.5"/></g><g id="c46"><ellipse cx="440" cy="526" rx="10" ry="5.5"/></g><g id="c47"><ellipse cx="464" cy="526" rx="10" ry="5.5"/></g><g id="c48"><ellipse cx="488" cy="526" rx="10" ry="5.5"/></g>
<g id="c49"><ellipse cx="320" cy="538" rx="10" ry="5.5"/></g><g id="c50"><ellipse cx="344" cy="538" rx="10" ry="5.5"/></g><g id="c51"><ellipse cx="368" cy="538" rx="10" ry="5.5"/></g><g id="c52"><ellipse cx="392" cy="538" rx="10" ry="5.5"/></g><g id="c53"><ellipse cx="416" cy="538" rx="10" ry="5.5"/></g><g id="c54"><ellipse cx="440" cy="538" rx="10" ry="5.5"/></g><g id="c55"><ellipse cx="464" cy="538" rx="10" ry="5.5"/></g><g id="c56"><ellipse cx="488" cy="538" rx="10" ry="5.5"/></g>
<g id="c57"><ellipse cx="320" cy="550" rx="10" ry="5.5"/></g><g id="c58"><ellipse cx="344" cy="550" rx="10" ry="5.5"/></g><g id="c59"><ellipse cx="368" cy="550" rx="10" ry="5.5"/></g><g id="c60"><ellipse cx="392" cy="550" rx="10" ry="5.5"/></g><g id="c61"><ellipse cx="416" cy="550" rx="10" ry="5.5"/></g><g id="c62"><ellipse cx="440" cy="550" rx="10" ry="5.5"/></g><g id="c63"><ellipse cx="464" cy="550" rx="10" ry="5.5"/></g><g id="c64"><ellipse cx="488" cy="550" rx="10" ry="5.5"/></g>
<g id="c65"><ellipse cx="320" cy="562" rx="10" ry="5.5"/></g><g id="c66"><ellipse cx="344" cy="562" rx="10" ry="5.5"/></g><g id="c67"><ellipse cx="368" cy="562" rx="10" ry="5.5"/></g><g id="c68"><ellipse cx="392" cy="562" rx="10" ry="5.5"/></g><g id="c69"><ellipse cx="416" cy="562" rx="10" ry="5.5"/></g><g id="c70"><ellipse cx="440" cy="562" rx="10" ry="5.5"/></g><g id="c71"><ellipse cx="464" cy="562" rx="10" ry="5.5"/></g><g id="c72"><ellipse cx="488" cy="562" rx="10" ry="5.5"/></g>
<g id="c73"><ellipse cx="320" cy="574" rx="10" ry="5.5"/></g><g id="c74"><ellipse cx="344" cy="574" rx="10" ry="5.5"/></g><g id="c75"><ellipse cx="368" cy="574" rx="10" ry="5.5"/></g><g id="c76"><ellipse cx="392" cy="574" rx="10" ry="5.5"/></g><g id="c77"><ellipse cx="416" cy="574" rx="10" ry="5.5"/></g><g id="c78"><ellipse cx="440" cy="574" rx="10" ry="5.5"/></g><g id="c79"><ellipse cx="464" cy="574" rx="10" ry="5.5"/></g>
</g>

<g id="gan-cao"><circle cx="400" cy="610" r="10" fill="#36b54a"/><text class="lb" x="401" y="614" font-size="10">Gan Cao</text></g>
</svg>
